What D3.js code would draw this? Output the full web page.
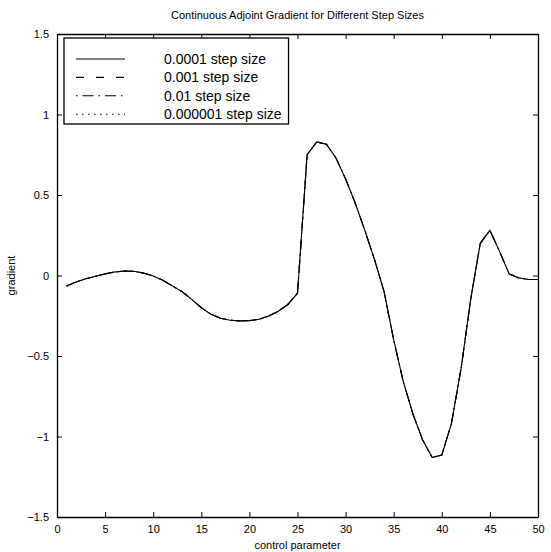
<!DOCTYPE html>
<html>
<head>
<meta charset="utf-8">
<script src="https://cdn.jsdelivr.net/npm/d3@7"></script>
<style>
  body { margin: 0; background: #fff; }
  text { font-family: "Liberation Sans", Arial, sans-serif; fill: #000; }
</style>
</head>
<body>
<div id="chart"></div>
<script>
// control parameter index (x) and adjoint gradient
const controlParam = [1,2,3,4,5,6,7,8,9,10,11,12,13,14,15,16,17,18,19,20,
  21,22,23,24,25,26,27,28,29,30,31,32,33,34,35,36,37,38,39,40,
  41,42,43,44,45,46,47,48,49,50];
const gradientValues = [-0.065,-0.04,-0.02,-0.005,0.01,0.022,0.028,0.026,0.015,-0.003,
  -0.03,-0.065,-0.1,-0.148,-0.2,-0.24,-0.265,-0.278,-0.282,-0.28,
  -0.272,-0.252,-0.222,-0.18,-0.11,0.75,0.83,0.815,0.73,0.6,
  0.45,0.28,0.1,-0.1,-0.4,-0.66,-0.86,-1.02,-1.13,-1.115,
  -0.92,-0.58,-0.15,0.2,0.28,0.15,0.01,-0.015,-0.025,-0.025];
// the four step sizes overlap exactly on the plot
const seriesLabels = ["0.0001 step size","0.001 step size","0.01 step size","0.000001 step size"];
const xTicks = [0,5,10,15,20,25,30,35,40,45,50];
const yTicks = [-1.5,-1,-0.5,0,0.5,1,1.5];

const cfg = {
  w: 551, h: 552,
  left: 57, right: 538, top: 34, bottom: 517,
  dashes: ["none", "8,12", "1.5,5,11,5", "1.5,4.5"],
  tick: 5
};

const svg = d3.select("#chart").append("svg")
  .attr("width", cfg.w)
  .attr("height", cfg.h);

const x = d3.scaleLinear().domain([0, 50]).range([cfg.left, cfg.right]);
const y = d3.scaleLinear().domain([-1.5, 1.5]).range([cfg.bottom, cfg.top]);

const fmt = d => d < 0 ? "\u2212" + Math.abs(d) : String(d);

// axes on all four sides, ticks pointing inward
svg.append("g")
  .attr("transform", "translate(0," + cfg.bottom + ")")
  .call(d3.axisBottom(x).tickValues(xTicks).tickSizeInner(-cfg.tick).tickSizeOuter(0).tickPadding(8).tickFormat(fmt));
svg.append("g")
  .attr("transform", "translate(0," + cfg.top + ")")
  .call(d3.axisTop(x).tickValues(xTicks).tickSizeInner(-cfg.tick).tickSizeOuter(0).tickFormat(""));
svg.append("g")
  .attr("transform", "translate(" + cfg.left + ",0)")
  .call(d3.axisLeft(y).tickValues(yTicks).tickSizeInner(-cfg.tick).tickSizeOuter(0).tickPadding(8).tickFormat(fmt));
svg.append("g")
  .attr("transform", "translate(" + cfg.right + ",0)")
  .call(d3.axisRight(y).tickValues(yTicks).tickSizeInner(-cfg.tick).tickSizeOuter(0).tickFormat(""));

svg.selectAll(".domain").attr("stroke", "#000").attr("stroke-width", 1.3);
svg.selectAll(".tick line").attr("stroke", "#000").attr("stroke-width", 1);
svg.selectAll(".tick text").style("font-size", "11px").attr("fill", "#000");

// the curves
const line = d3.line()
  .x((d, i) => x(controlParam[i]))
  .y(d => y(d));

svg.selectAll("path.series")
  .data(seriesLabels)
  .enter()
  .append("path")
    .attr("class", "series")
    .attr("d", () => line(gradientValues))
    .attr("fill", "none")
    .attr("stroke", "#000")
    .attr("stroke-width", 1.1)
    .attr("stroke-dasharray", (d, i) => cfg.dashes[i]);

// titles
svg.append("text")
  .attr("x", (cfg.left + cfg.right) / 2)
  .attr("y", 19)
  .attr("text-anchor", "middle")
  .style("font-size", "11px")
  .text("Continuous Adjoint Gradient for Different Step Sizes");

svg.append("text")
  .attr("x", (cfg.left + cfg.right) / 2)
  .attr("y", 549)
  .attr("text-anchor", "middle")
  .style("font-size", "11px")
  .text("control parameter");

svg.append("text")
  .attr("transform", "translate(15," + (cfg.top + cfg.bottom) / 2 + ") rotate(-90)")
  .attr("text-anchor", "middle")
  .style("font-size", "11px")
  .text("gradient");

// legend
const legend = svg.append("g").attr("transform", "translate(64,38)");
const box = legend.append("rect")
  .attr("height", 86)
  .attr("fill", "#fff")
  .attr("stroke", "#000")
  .attr("stroke-width", 1.3);

const rows = legend.selectAll("g.row")
  .data(seriesLabels)
  .enter()
  .append("g")
    .attr("class", "row")
    .attr("transform", (d, i) => "translate(0," + (21 + i * 18.4) + ")");

rows.append("line")
  .attr("x1", 12).attr("x2", 61)
  .attr("stroke", "#000")
  .attr("stroke-width", 1.1)
  .attr("stroke-dasharray", (d, i) => cfg.dashes[i]);

const labels = rows.append("text")
  .attr("x", 100)
  .attr("dy", "0.36em")
  .style("font-size", "14px")
  .text(d => d);

// fit the box around the longest label
const maxLen = d3.max(labels.nodes(), n => n.getComputedTextLength());
box.attr("width", 100 + maxLen + 7);
</script>
</body>
</html>
